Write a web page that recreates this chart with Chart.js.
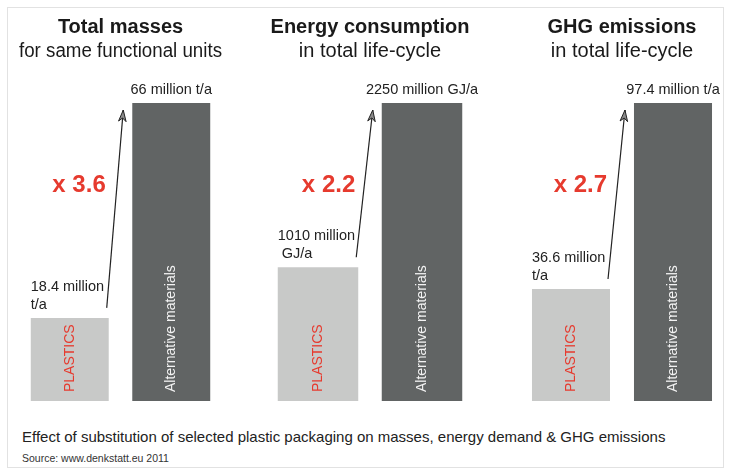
<!DOCTYPE html>
<html>
<head>
<meta charset="utf-8">
<script src="https://cdn.jsdelivr.net/npm/chart.js@4.4.1/dist/chart.umd.min.js"></script>
<style>
  html, body { margin: 0; padding: 0; background: #fff; }
  body { width: 734px; height: 472px; position: relative; overflow: hidden;
         font-family: 'Liberation Sans', Arial, Helvetica, sans-serif; color: #222; }
  .frame { position: absolute; left: 7px; top: 7px; width: 715px; height: 459px;
           border: 1px solid #e2e2e2; }
  canvas { position: absolute; top: 0; }
  .caption { position: absolute; left: 22px; top: 428px; font-size: 15px; color: #222; }
  .source { position: absolute; left: 22px; top: 452px; font-size: 10.5px; color: #333; }
</style>
</head>
<body>
<div class="frame"></div>
<canvas id="panel0" width="233" height="401" style="left:9px"></canvas>
<canvas id="panel1" width="238" height="401" style="left:256px"></canvas>
<canvas id="panel2" width="214" height="401" style="left:510px"></canvas>
<div class="caption">Effect of substitution of selected plastic packaging on masses, energy demand &amp; GHG emissions</div>
<div class="source">Source: www.denkstatt.eu 2011</div>

<script>
// data
const panelTitles = ['Total masses', 'Energy consumption', 'GHG emissions'];
const panelSubtitles = ['for same functional units', 'in total life-cycle', 'in total life-cycle'];
const categories = ['PLASTICS', 'Alternative materials'];
const plasticsValues = [18.4, 1010, 36.6];
const alternativeValues = [66, 2250, 97.4];
const plasticsLabels = [['18.4 million', 't/a'], ['1010 million', ' GJ/a'], ['36.6 million', 't/a']];
const alternativeLabels = ['66 million t/a', '2250 million GJ/a', '97.4 million t/a'];
const factorLabels = ['x 3.6', 'x 2.2', 'x 2.7'];

const FONT = "'Liberation Sans', Arial, Helvetica, sans-serif";
const RED = '#e63a2e';
const barFractions = [0.768, 0.774, 0.765];
const sidePadding = [{ left: 10, right: 20 }, { left: 10, right: 20 }, { left: 10, right: 0 }];

// draws value labels, factor text, arrow and rotated bar names
const annotatePlugin = {
    id: 'annotate',
    afterDatasetsDraw(chart) {
        const i = chart.options.plugins.annotate.index;
        const ctx = chart.ctx;
        const bars = chart.getDatasetMeta(0).data;
        const p = bars[0], a = bars[1];
        const pLeft = p.x - p.width / 2, pRight = p.x + p.width / 2;
        const aLeft = a.x - a.width / 2;

        ctx.save();
        ctx.fillStyle = '#222';
        ctx.font = `14.5px ${FONT}`;
        ctx.textBaseline = 'middle';

        // alternative value label
        ctx.textAlign = 'center';
        ctx.fillText(alternativeLabels[i], a.x, a.y - 13);

        // plastics value label (two lines)
        ctx.textAlign = 'left';
        ctx.fillText(plasticsLabels[i][0], pLeft, p.y - 31);
        ctx.fillText(plasticsLabels[i][1], pLeft, p.y - 13);

        // factor text
        ctx.fillStyle = RED;
        ctx.font = `bold 24px ${FONT}`;
        ctx.textAlign = 'right';
        ctx.fillText(factorLabels[i], pRight - 3, 185);

        // arrow from plastics bar to alternative bar
        const x0 = pRight - 2, y0 = p.y - 10;
        const x1 = aLeft - 9, y1 = a.y + 7;
        ctx.strokeStyle = '#222';
        ctx.lineWidth = 1.2;
        ctx.beginPath();
        ctx.moveTo(x0, y0);
        ctx.lineTo(x1, y1);
        ctx.stroke();
        const ang = Math.atan2(y1 - y0, x1 - x0);
        const len = 12, notch = 8, spread = 0.32;
        ctx.beginPath();
        ctx.moveTo(x1, y1);
        ctx.lineTo(x1 - len * Math.cos(ang - spread), y1 - len * Math.sin(ang - spread));
        ctx.lineTo(x1 - notch * Math.cos(ang), y1 - notch * Math.sin(ang));
        ctx.lineTo(x1 - len * Math.cos(ang + spread), y1 - len * Math.sin(ang + spread));
        ctx.closePath();
        ctx.fillStyle = '#8a8a8a';
        ctx.fill();
        ctx.lineWidth = 1;
        ctx.stroke();

        // rotated category names inside the bars
        ctx.font = `14px ${FONT}`;
        ctx.textAlign = 'left';
        ctx.textBaseline = 'middle';
        [[p, RED], [a, '#f2f2f2']].forEach(([bar, color], k) => {
            ctx.save();
            ctx.translate(bar.x, bar.base - 9);
            ctx.rotate(-Math.PI / 2);
            ctx.fillStyle = color;
            ctx.fillText(categories[k], 0, 0);
            ctx.restore();
        });
        ctx.restore();
    }
};

panelTitles.forEach((title, i) => {
    new Chart(document.getElementById('panel' + i), {
        type: 'bar',
        data: {
            labels: categories,
            datasets: [{
                data: [plasticsValues[i], alternativeValues[i]],
                backgroundColor: ['#c8c9c8', '#616464'],
                borderWidth: 0,
                categoryPercentage: 1,
                barPercentage: barFractions[i]
            }]
        },
        options: {
            responsive: false,
            animation: false,
            devicePixelRatio: 1,
            layout: { padding: { top: 0, bottom: 0, left: sidePadding[i].left, right: sidePadding[i].right } },
            scales: {
                x: { display: false },
                y: { display: false, min: 0, max: alternativeValues[i] }
            },
            plugins: {
                legend: { display: false },
                tooltip: { enabled: false },
                title: {
                    display: true,
                    text: title,
                    color: '#1a1a1a',
                    font: { family: FONT, size: 20, weight: 'bold', lineHeight: 1.2 },
                    padding: { top: 15, bottom: 0 }
                },
                subtitle: {
                    display: true,
                    text: panelSubtitles[i],
                    color: '#1a1a1a',
                    font: { family: FONT, size: 20, weight: 'normal', lineHeight: 1.2 },
                    padding: { top: 0, bottom: 40 }
                },
                annotate: { index: i }
            }
        },
        plugins: [annotatePlugin]
    });
});
</script>
</body>
</html>
